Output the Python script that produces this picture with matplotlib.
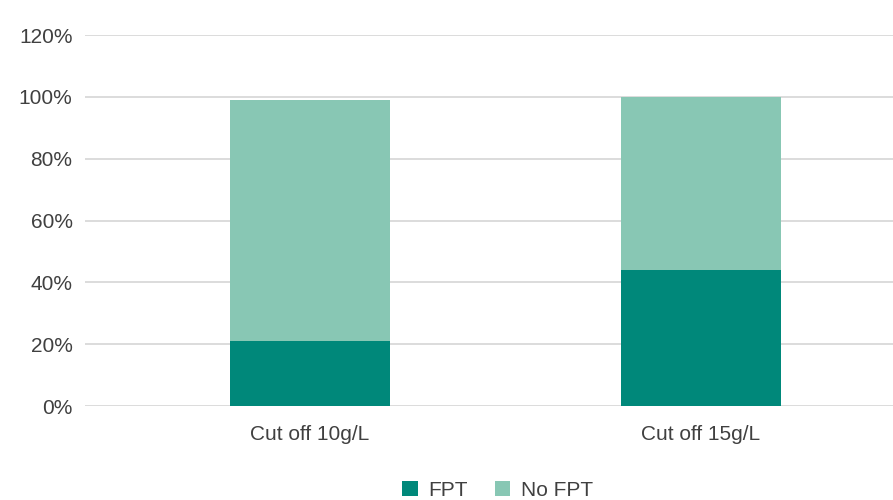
import matplotlib.pyplot as plt
from matplotlib.ticker import PercentFormatter

plt.rcParams['font.family'] = ['Liberation Sans', 'DejaVu Sans']

categories = ["Cut off 10g/L", "Cut off 15g/L"]
fpt = [21, 44]
no_fpt = [78, 56]

c_fpt = "#00887A"
c_no = "#88C7B4"
txt = "#404040"

fig = plt.figure(figsize=(8.93, 5), dpi=100)
ax = fig.add_axes([85 / 893, 0.188, 808 / 893, 0.742])

x = range(len(categories))
ax.bar(x, fpt, width=0.41, color=c_fpt, label="FPT", zorder=3)
ax.bar(x, no_fpt, width=0.41, bottom=fpt, color=c_no, label="No FPT", zorder=3)

ax.set_ylim(0, 120)
ax.set_yticks(range(0, 121, 20))
ax.yaxis.set_major_formatter(PercentFormatter(decimals=0))
ax.set_xlim(-0.575, 1.491)
ax.set_xticks(list(x))
ax.set_xticklabels(categories)
ax.grid(axis="y", color="#d9d9d9", linewidth=1.3, zorder=0)
for s in ax.spines.values():
    s.set_visible(False)
ax.tick_params(length=0, labelsize=15, colors=txt)
ax.tick_params(axis="x", pad=14)
ax.tick_params(axis="y", pad=9)

fig.legend(loc="center", bbox_to_anchor=(0.557, 0.02), ncol=2, frameon=False,
           fontsize=15, labelcolor=txt, handlelength=0.75, handleheight=0.75,
           columnspacing=1.3, handletextpad=0.5)

fig.savefig("out.png", dpi=100)
